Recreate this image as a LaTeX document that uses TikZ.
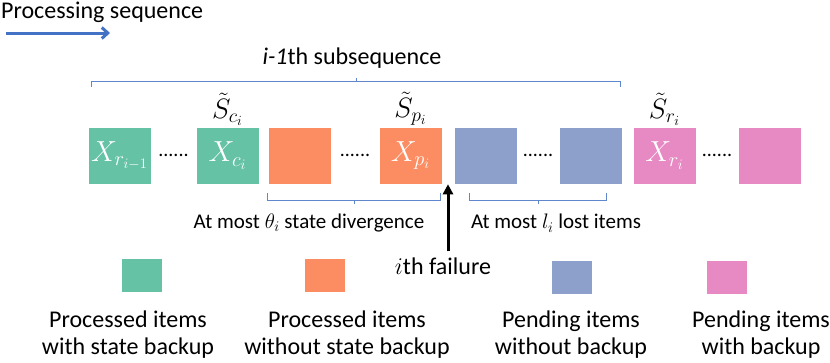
\RequirePackage{fix-cm}
\documentclass[tikz,border=0pt]{standalone}
\usepackage{fontspec}
\setmainfont{Carlito}
\usepackage{tikz}
\usetikzlibrary{arrows.meta,calc,positioning}
\definecolor{itemgreen}{HTML}{66C2A5}
\definecolor{itemorange}{HTML}{FC8D62}
\definecolor{itemblue}{HTML}{8DA0CB}
\definecolor{itempink}{HTML}{E78AC3}
\definecolor{seqblue}{HTML}{4472C4}
\tikzset{
  itembox/.style={
    rectangle, draw=white, line width=0.5pt,
    minimum width=63pt, minimum height=57pt,
    inner sep=0pt, text=white, font=\fontsize{29}{32}\selectfont
  },
  greenfill/.style={fill=itemgreen},
  orangefill/.style={fill=itemorange},
  bluefill/.style={fill=itemblue},
  pinkfill/.style={fill=itempink},
  legendbox/.style={
    rectangle, draw=white, line width=0.5pt,
    minimum width=41pt, minimum height=34pt, inner sep=0pt
  },
  legendtext/.style={font=\fontsize{24}{27}\selectfont, align=center, inner sep=0pt},
  dotsep/.style={font=\fontsize{20}{20}\selectfont, inner sep=0pt},
  statelabel/.style={font=\fontsize{28}{32}\selectfont, inner sep=0pt},
  bracelabel/.style={font=\fontsize{21}{24}\selectfont, inner sep=0pt},
  bigtext/.style={font=\fontsize{24}{28}\selectfont, inner sep=0pt},
  braceline/.style={draw=seqblue!85, line width=0.8pt},
  seqarrow/.style={draw=seqblue, line width=3pt, -{Straight Barb[length=6pt,width=11pt]}},
  failarrow/.style={line width=3pt, -{Triangle[length=10pt,width=10pt]}}
}

\begin{document}
\begin{tikzpicture}[x=1pt, y=1pt]
  \useasboundingbox (0,0) rectangle (830,-362);

  % ==== PROCESSING DIRECTION ====
  \node[bigtext, anchor=west] (seqtitle) at (1,-12) {Processing sequence};
  \coordinate (seqL) at (6,-33);
  \coordinate (seqR) at (110,-33);
  \draw[seqarrow] (seqL) -- (seqR);

  % ==== ITEM ROW ====
  \node[itembox, greenfill]  (g1) at (119.5,-155.5) {$X_{r_{i-1}}$};
  \node[itembox, greenfill]  (g2) at (227.5,-155.5) {$X_{c_i}$};
  \node[itembox, orangefill] (o1) at (299.5,-155.5) {};
  \node[itembox, orangefill] (o2) at (410.5,-155.5) {$X_{p_i}$};
  \node[itembox, bluefill]   (b1) at (485.5,-155.5) {};
  \node[itembox, bluefill]   (b2) at (590.5,-155.5) {};
  \node[itembox, pinkfill]   (p1) at (664.5,-155.5) {$X_{r_i}$};
  \node[itembox, pinkfill]   (p2) at (769.5,-155.5) {};
  \node[dotsep] (d1) at ($(g1.east)!0.5!(g2.west)$) {......};
  \node[dotsep] (d2) at ($(o1.east)!0.5!(o2.west)$) {......};
  \node[dotsep] (d3) at ($(b1.east)!0.5!(b2.west)$) {......};
  \node[dotsep] (d4) at ($(p1.east)!0.5!(p2.west)$) {......};
  \node[statelabel, above=1pt of g2] (sc) {$\tilde{S}_{c_i}$};
  \node[statelabel, above=1pt of o2] (sp) {$\tilde{S}_{p_i}$};
  \node[statelabel, above=1pt of p1] (sr) {$\tilde{S}_{r_i}$};

  % ==== SUBSEQUENCE BRACE (top) ====
  \coordinate (topL) at ([xshift=4pt, yshift=40pt]g1.north west);
  \coordinate (topR) at ([xshift=-2pt, yshift=40pt]b2.north east);
  \draw[braceline] (topL) -- ++(0,5) -- ($(topL)!0.5!(topR)+(0,5)$)
    -- ++(0,4) ++(0,-4) -- ($(topR)+(0,5)$) -- (topR);
  \node[bigtext] (subseq) at ($(topL)!0.5!(topR)+(-4,29)$)
    {\textit{i-1}th subsequence};

  % ==== LOSS BRACES (bottom) ====
  \coordinate (divL) at ([yshift=-9pt]o1.south west);
  \coordinate (divR) at ([xshift=-2pt, yshift=-9pt]o2.south east);
  \draw[braceline] (divL) -- ++(0,-7) -- ($(divL)!0.5!(divR)+(0,-7)$)
    -- ++(0,-4) ++(0,4) -- ($(divR)+(0,-7)$) -- (divR);
  \node[bracelabel] (divtext) at ($(divL)!0.5!(divR)+(-45,-30)$)
    {At most $\theta_i$ state divergence};
  \coordinate (lostL) at ([xshift=16pt, yshift=-9pt]b1.south west);
  \coordinate (lostR) at ([xshift=-16pt, yshift=-9pt]b2.south east);
  \draw[braceline] (lostL) -- ++(0,-7) -- ($(lostL)!0.5!(lostR)+(0,-7)$)
    -- ++(0,-4) ++(0,4) -- ($(lostR)+(0,-7)$) -- (lostR);
  \node[bracelabel] (losttext) at ($(lostL)!0.5!(lostR)+(18,-30)$)
    {At most $l_i$ lost items};

  % ==== FAILURE ====
  \coordinate (fail) at ($(o2.south east)!0.5!(b1.south west)$);
  \node[bigtext] (ifail) at (443,-266) {$i$th failure};
  \draw[failarrow] ($(ifail.north -| fail)+(0,6)$) -- (fail);

  % ==== LEGEND ====
  \node[legendbox, greenfill]  (lg) at (141.5,-275) {};
  \node[legendbox, orangefill] (lo) at (324.5,-275) {};
  \node[legendbox, bluefill]   (lb) at (571.5,-277) {};
  \node[legendbox, pinkfill]   (lp) at (726.5,-277) {};
  \node[legendtext] (tg) at (128,-335) {Processed items\\with state backup};
  \node[legendtext] (to) at (347,-335) {Processed items\\without state backup};
  \node[legendtext] (tb) at (571,-335) {Pending items\\without backup};
  \node[legendtext] (tp) at (761,-335) {Pending items\\with backup};
\end{tikzpicture}
\end{document}
